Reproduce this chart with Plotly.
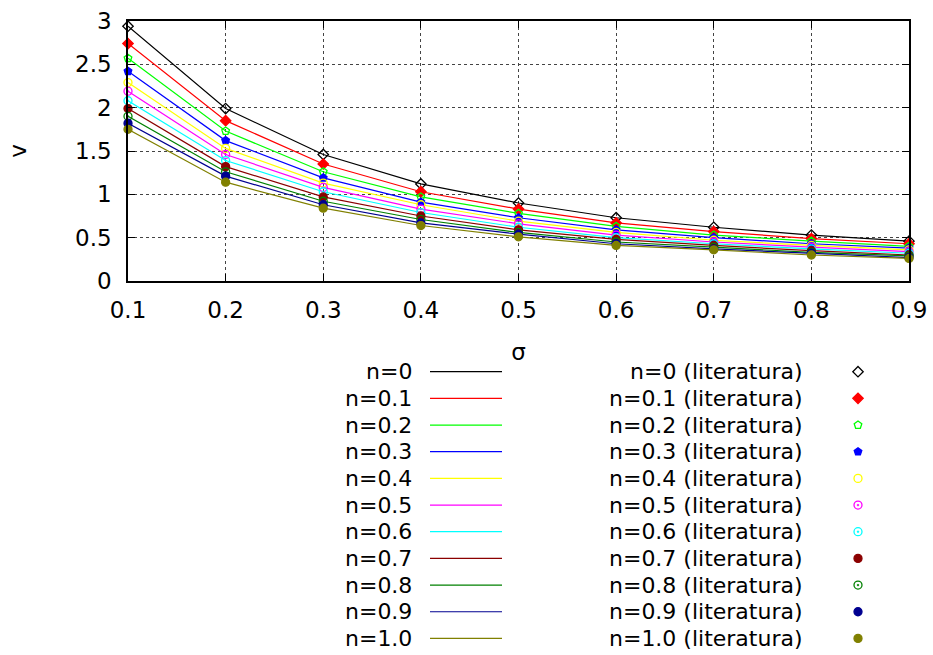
import plotly.graph_objects as go

# ---------------- data ----------------
sigma = [0.1, 0.2, 0.3, 0.4, 0.5, 0.6, 0.7, 0.8, 0.9]
n_labels = ["0", "0.1", "0.2", "0.3", "0.4", "0.5", "0.6", "0.7", "0.8", "0.9", "1.0"]

v_n00 = [2.94, 1.99, 1.46, 1.12, 0.90, 0.73, 0.62, 0.53, 0.46]
v_n01 = [2.74, 1.85, 1.35, 1.03, 0.83, 0.67, 0.57, 0.49, 0.43]
v_n02 = [2.57, 1.73, 1.26, 0.97, 0.78, 0.63, 0.53, 0.46, 0.40]
v_n03 = [2.42, 1.62, 1.19, 0.91, 0.73, 0.59, 0.50, 0.43, 0.38]
v_n04 = [2.29, 1.53, 1.13, 0.88, 0.69, 0.56, 0.47, 0.41, 0.36]
v_n05 = [2.19, 1.46, 1.08, 0.83, 0.66, 0.53, 0.45, 0.39, 0.34]
v_n06 = [2.08, 1.39, 1.03, 0.79, 0.62, 0.50, 0.43, 0.37, 0.32]
v_n07 = [1.99, 1.32, 0.97, 0.75, 0.59, 0.48, 0.41, 0.35, 0.30]
v_n08 = [1.90, 1.26, 0.92, 0.71, 0.56, 0.45, 0.39, 0.33, 0.29]
v_n09 = [1.82, 1.21, 0.88, 0.67, 0.54, 0.43, 0.37, 0.32, 0.27]
v_n10 = [1.75, 1.14, 0.84, 0.64, 0.51, 0.41, 0.36, 0.30, 0.26]

# literature points (same values as the model curves)
lit_n00, lit_n01, lit_n02, lit_n03 = v_n00, v_n01, v_n02, v_n03
lit_n04, lit_n05, lit_n06, lit_n07 = v_n04, v_n05, v_n06, v_n07
lit_n08, lit_n09, lit_n10 = v_n08, v_n09, v_n10

model_series = [v_n00, v_n01, v_n02, v_n03, v_n04, v_n05, v_n06, v_n07, v_n08, v_n09, v_n10]
lit_series = [lit_n00, lit_n01, lit_n02, lit_n03, lit_n04, lit_n05, lit_n06, lit_n07, lit_n08, lit_n09, lit_n10]

x_ticks = [0.1, 0.2, 0.3, 0.4, 0.5, 0.6, 0.7, 0.8, 0.9]
y_ticks = [0, 0.5, 1, 1.5, 2, 2.5, 3]

# ---------------- style ----------------
colors = ["#000000", "#ff0000", "#00ff00", "#0000ff", "#ffff00", "#ff00ff",
          "#00ffff", "#8b0000", "#008000", "#000090", "#808000"]
symbols = ["diamond-open", "diamond", "pentagon-open", "pentagon", "circle-open",
           "circle-open-dot", "circle-open-dot", "circle", "circle-open-dot", "circle", "circle"]
FONT = "DejaVu Sans"
FS = 22
TFS = 23

W, H = 933, 655
ML, MR, MT, MB = 128, 24, 21, 10
plot_bottom_px = 281
main_dom0 = (H - MB - plot_bottom_px) / (H - MT - MB)

fig = go.Figure()

# model curves (lines)
for lab, vals, col in zip(n_labels, model_series, colors):
    fig.add_trace(go.Scatter(x=sigma, y=vals, mode="lines", name="n=" + lab,
                             line=dict(color=col, width=1.2), showlegend=False,
                             xaxis="x", yaxis="y"))
# literature points
for lab, vals, col, sym in zip(n_labels, lit_series, colors, symbols):
    fig.add_trace(go.Scatter(x=sigma, y=vals, mode="markers", name="n=" + lab + " (literatura)",
                             marker=dict(color=col, symbol=sym, size=8,
                                         line=dict(color=col, width=1.3)),
                             showlegend=False, cliponaxis=False,
                             xaxis="x", yaxis="y"))

# ---------------- custom legend (pixel-like helper axes) ----------------
leg_top_px = 333
row0 = 371.7
row_step = 26.67
annotations = []
for i, (lab, col, sym) in enumerate(zip(n_labels, colors, symbols)):
    ry = row0 + i * row_step
    fig.add_trace(go.Scatter(x=[430, 502], y=[ry, ry], mode="lines",
                             line=dict(color=col, width=1.2), showlegend=False,
                             hoverinfo="skip", xaxis="x2", yaxis="y2"))
    fig.add_trace(go.Scatter(x=[858], y=[ry], mode="markers",
                             marker=dict(color=col, symbol=sym, size=8,
                                         line=dict(color=col, width=1.3)),
                             showlegend=False, hoverinfo="skip", cliponaxis=False,
                             xaxis="x2", yaxis="y2"))
    annotations.append(dict(x=414, y=ry, xref="x2", yref="y2", text="n=" + lab,
                            showarrow=False, xanchor="right", yanchor="middle",
                            font=dict(family=FONT, size=FS, color="black")))
    annotations.append(dict(x=805, y=ry, xref="x2", yref="y2",
                            text="n=" + lab + " (literatura)",
                            showarrow=False, xanchor="right", yanchor="middle",
                            font=dict(family=FONT, size=FS, color="black")))

axis_common = dict(showline=True, linecolor="black", linewidth=1.5, mirror="ticks",
                   ticks="inside", ticklen=7, tickcolor="black", tickwidth=1,
                   showgrid=True, gridcolor="#444444", griddash="dot", gridwidth=1,
                   zeroline=False, automargin=False,
                   tickfont=dict(family=FONT, size=TFS, color="black"))

fig.update_layout(
    width=W, height=H,
    margin=dict(l=ML, r=MR, t=MT, b=MB, autoexpand=False),
    paper_bgcolor="white", plot_bgcolor="white",
    font=dict(family=FONT, size=FS, color="black"),
    xaxis=dict(range=[0.1, 0.9], tickvals=x_ticks, ticktext=[str(t) for t in x_ticks],
               anchor="y", domain=[0, 1], ticklabelstandoff=8,
               title=dict(text="σ", standoff=22, font=dict(family=FONT, size=TFS)),
               **axis_common),
    yaxis=dict(range=[0, 3], tickvals=y_ticks, ticktext=["0", "0.5", "1", "1.5", "2", "2.5", "3"],
               anchor="x", domain=[main_dom0, 1], ticklabelstandoff=10,
               title=dict(text="v", standoff=42, font=dict(family=FONT, size=TFS)),
               **axis_common),
    xaxis2=dict(range=[ML, W - MR], domain=[0, 1], anchor="y2", visible=False,
                fixedrange=True, automargin=False),
    yaxis2=dict(range=[H - MB, leg_top_px], domain=[0, (H - MB - leg_top_px) / (H - MT - MB)],
                anchor="x2", visible=False, fixedrange=True, automargin=False),
    annotations=annotations,
)

fig.write_html("out.html",
               config={"displayModeBar": False},
               post_script="document.body.style.margin='0';document.body.style.padding='0';"
                           "document.body.style.overflow='hidden';")
